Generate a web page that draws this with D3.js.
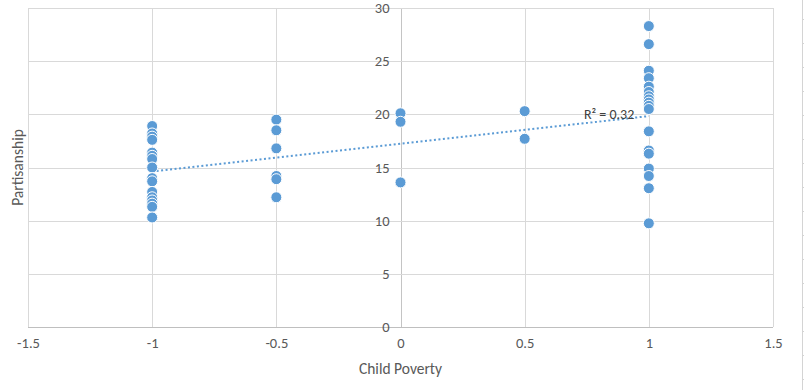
<!DOCTYPE html>
<html>
<head>
<meta charset="utf-8">
<script src="https://cdn.jsdelivr.net/npm/d3@7"></script>
<style>
  body { margin: 0; background: #fff; }
  svg text { font-family: Calibri, Carlito, "Liberation Sans Narrow", "Liberation Sans", sans-serif; }
</style>
</head>
<body>
<div id="scatter"></div>
<script>
// groups of points, one x value per group
var xGroups = [-1, -0.5, 0, 0.5, 1];
var yMinus1 = [18.9, 18.2, 17.9, 17.6, 16.4, 16.1, 15.8, 15.0, 14.0, 13.7, 12.7, 12.2, 11.9, 11.6, 11.3, 10.3];
var yMinusHalf = [19.5, 18.5, 16.8, 14.2, 13.9, 12.2];
var yZero = [20.1, 19.3, 13.6];
var yHalf = [20.3, 17.7];
var yPlus1 = [28.3, 26.6, 24.1, 23.4, 22.6, 22.1, 21.7, 21.4, 21.1, 20.8, 20.5,
              18.4, 16.6, 16.3, 14.9, 14.2, 13.05, 9.75];
var xTicks = [-1.5, -1, -0.5, 0, 0.5, 1, 1.5];
var yTicks = [0, 5, 10, 15, 20, 25, 30];
var r2Label = "R² = 0.32";

var svgWidth = 804, svgHeight = 390;
var margin = { top: 8, left: 28, right: 31, bottom: 63 };
var chartWidth = svgWidth - margin.left - margin.right;
var chartHeight = svgHeight - margin.top - margin.bottom;

var svg = d3.select("#scatter").append("svg")
    .attr("width", svgWidth)
    .attr("height", svgHeight);

// remnant of the sheet at the right edge
svg.append("line")
    .attr("x1", 802.5).attr("x2", 802.5).attr("y1", 0).attr("y2", svgHeight)
    .attr("stroke", "#d4d4d4");
d3.range(19, svgHeight, 24).forEach(function (ty) {
    svg.append("line")
        .attr("x1", 802).attr("x2", 804).attr("y1", ty + 0.5).attr("y2", ty + 0.5)
        .attr("stroke", "#d4d4d4");
});

var chartGroup = svg.append("g")
    .attr("transform", `translate(${margin.left}, ${margin.top})`);

var x = d3.scaleLinear().domain([-1.5, 1.5]).range([0, chartWidth]);
var y = d3.scaleLinear().domain([0, 30]).range([chartHeight, 0]);

// gridlines
chartGroup.selectAll(".vgrid").data(xTicks).enter().append("line")
    .attr("class", "vgrid")
    .attr("x1", d => Math.round(x(d)) + 0.5).attr("x2", d => Math.round(x(d)) + 0.5)
    .attr("y1", 0).attr("y2", chartHeight)
    .attr("stroke", d => d === 0 ? "#c4c4c4" : "#d9d9d9");
chartGroup.selectAll(".hgrid").data(yTicks).enter().append("line")
    .attr("class", "hgrid")
    .attr("x1", 0).attr("x2", chartWidth)
    .attr("y1", d => Math.round(y(d)) + 0.5).attr("y2", d => Math.round(y(d)) + 0.5)
    .attr("stroke", d => d === 0 ? "#bfbfbf" : "#d9d9d9");

// plain hyphen for negatives, like the original
var fmt = d => String(d);

// y axis labels sit on the x = 0 line
var yAxis = d3.axisLeft(y).tickValues(yTicks).tickSize(0).tickPadding(12).tickFormat(fmt);
var yAxisG = chartGroup.append("g")
    .attr("transform", `translate(${Math.round(x(0)) + 0.5}, 0)`)
    .call(yAxis);
yAxisG.select(".domain").remove();
yAxisG.selectAll("text").attr("fill", "#595959").style("font-size", "14.5px");

var xAxis = d3.axisBottom(x).tickValues(xTicks).tickSize(0).tickPadding(11).tickFormat(fmt);
var xAxisG = chartGroup.append("g")
    .attr("transform", `translate(0, ${chartHeight})`)
    .call(xAxis);
xAxisG.select(".domain").remove();
xAxisG.selectAll("text").attr("fill", "#595959").style("font-size", "14.5px");

// axis titles
chartGroup.append("text")
    .attr("x", x(0)).attr("y", chartHeight + 47)
    .attr("text-anchor", "middle")
    .attr("fill", "#595959").style("font-size", "15.5px")
    .text("Child Poverty");
chartGroup.append("text")
    .attr("transform", `translate(${-5}, ${chartHeight * 0.5}) rotate(-90)`)
    .attr("text-anchor", "middle")
    .attr("fill", "#595959").style("font-size", "15.5px")
    .text("Partisanship");

// flatten the groups into points
var series = [yMinus1, yMinusHalf, yZero, yHalf, yPlus1];
var points = [];
series.forEach(function (vals, i) {
    vals.forEach(function (v) { points.push({ x: xGroups[i], y: v }); });
});

// linear trendline (least squares)
var mx = d3.mean(points, d => d.x), my = d3.mean(points, d => d.y);
var sxy = d3.sum(points, d => (d.x - mx) * (d.y - my));
var sxx = d3.sum(points, d => (d.x - mx) * (d.x - mx));
var slope = sxy / sxx, intercept = my - slope * mx;
var xExt = d3.extent(points, d => d.x);

chartGroup.append("line")
    .attr("x1", x(xExt[0])).attr("y1", y(intercept + slope * xExt[0]))
    .attr("x2", x(xExt[1])).attr("y2", y(intercept + slope * xExt[1]))
    .attr("stroke", "#5b9bd5")
    .attr("stroke-width", 2)
    .attr("stroke-dasharray", "2 2.5");

chartGroup.selectAll(".dot").data(points).enter().append("circle")
    .attr("class", "dot")
    .attr("cx", d => x(d.x))
    .attr("cy", d => y(d.y))
    .attr("r", 5.5)
    .attr("fill", "#5b9bd5")
    .attr("stroke", "#fff")
    .attr("stroke-width", 1);

chartGroup.append("text")
    .attr("x", x(0.84)).attr("y", y(20) + 5)
    .attr("text-anchor", "middle")
    .attr("fill", "#404040").style("font-size", "14px")
    .text(r2Label);
</script>
</body>
</html>
